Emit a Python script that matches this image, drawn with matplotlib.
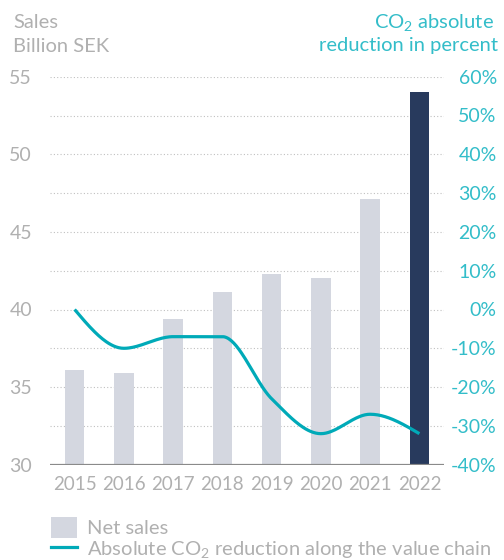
#!/usr/bin/env python3
# -*- encoding utf-8 -*-

"""
Net sales (bars, left axis) against absolute CO2 reduction along the
value chain (smoothed line, right axis), 2015-2022.
"""

# %% Load libraries
import numpy as np
import matplotlib
matplotlib.use("Agg")
import matplotlib.pyplot as plt
from matplotlib.patches import Patch
from matplotlib.lines import Line2D

# %% Setup
plt.rcParams['font.family'] = ['Lato', 'DejaVu Sans']
plt.rcParams['font.weight'] = 'normal'
plt.rcParams['mathtext.fontset'] = 'custom'
plt.rcParams['mathtext.rm'] = 'Lato'
plt.rcParams['mathtext.it'] = 'Lato'

GREY_TXT = '#b0b0b0'
TEAL_TXT = '#33bdc9'
TEAL = '#00aab8'
BAR = '#d4d7e0'
NAVY = '#283a5d'

# %% Data
years = ['2015', '2016', '2017', '2018', '2019', '2020', '2021', '2022']
net_sales = [36.1, 35.9, 39.4, 41.1, 42.3, 42.0, 47.1, 54.0]
co2_reduction = [0, -10, -7, -7, -23, -32, -27, -32]

sales_ticks = [30, 35, 40, 45, 50, 55]
pct_ticks = [-40, -30, -20, -10, 0, 10, 20, 30, 40, 50, 60]


# %% Monotone cubic smoothing of the CO2 line
def monotone_curve(y, n=40):
    y = np.asarray(y, dtype=float)
    s = np.diff(y)
    t = np.zeros_like(y)
    for i in range(1, len(y) - 1):
        p = (s[i - 1] + s[i]) / 2
        t[i] = (np.sign(s[i - 1]) + np.sign(s[i])) * \
            min(abs(s[i - 1]), abs(s[i]), 0.5 * abs(p))
    t[0] = (3 * s[0] - t[1]) / 2
    t[-1] = (3 * s[-1] - t[-2]) / 2
    xs, ys = [], []
    for i in range(len(s)):
        u = np.linspace(0, 1, n)
        h00 = 2 * u**3 - 3 * u**2 + 1
        h10 = u**3 - 2 * u**2 + u
        h01 = -2 * u**3 + 3 * u**2
        h11 = u**3 - u**2
        xs.append(i + u)
        ys.append(h00 * y[i] + h10 * t[i] + h01 * y[i + 1] + h11 * t[i + 1])
    return np.concatenate(xs), np.concatenate(ys)


# %% Figure
fig = plt.figure(figsize=(5.04, 5.6), dpi=100)
ax = fig.add_axes([50 / 504, 1 - 464.7 / 560, 394 / 504, 388 / 560])
ax2 = ax.twinx()

x = np.arange(len(years))
colors = [BAR] * (len(years) - 1) + [NAVY]
ax.bar(x, net_sales, width=0.4, color=colors, zorder=2)

# grid every 2.5 on the sales axis (= every 10% on the right axis)
for g in np.arange(32.5, 55.1, 2.5):
    ax.axhline(g, color='#c0c0c0', lw=0.8, ls=(0, (1, 2)), zorder=1)
ax.axhline(30, color='#8a8a8a', lw=1.6, zorder=3)

ax.set_xlim(-0.5, 7.5)
ax.set_ylim(30, 55)
ax.set_yticks(sales_ticks)
ax.set_xticks(x)
ax.set_xticklabels(years)
ax.tick_params(axis='y', length=0, pad=13, labelsize=14, labelcolor=GREY_TXT)
ax.tick_params(axis='x', length=0, pad=8, labelsize=13.5, labelcolor=GREY_TXT)

lx, ly = monotone_curve(co2_reduction)
ax2.plot(lx, ly, color=TEAL, lw=2.3, solid_capstyle='butt', zorder=4)
ax2.set_ylim(-40, 60)
ax2.set_yticks(pct_ticks)
ax2.set_yticklabels([f'{v}%' for v in pct_ticks], ha='right')
ax2.tick_params(axis='y', length=0, pad=38, labelsize=14, labelcolor=TEAL_TXT)

for a in (ax, ax2):
    for sp in a.spines.values():
        sp.set_visible(False)

# axis titles
fig.text(13 / 504, 1 - 28 / 560, 'Sales', color=GREY_TXT, fontsize=14.5,
         va='baseline', ha='left')
fig.text(13 / 504, 1 - 51.5 / 560, 'Billion SEK', color=GREY_TXT,
         fontsize=14.5, va='baseline', ha='left')
fig.text(494 / 504, 1 - 28 / 560, r'CO$_2$ absolute', color=TEAL_TXT,
         fontsize=14.5, va='baseline', ha='right')
fig.text(498 / 504, 1 - 51.5 / 560, 'reduction in percent', color=TEAL_TXT,
         fontsize=14.5, va='baseline', ha='right')

# legend
handles = [Patch(facecolor=BAR, edgecolor='none'),
           Line2D([], [], color=TEAL, lw=2.3)]
labels = ['Net sales', r'Absolute CO$_2$ reduction along the value chain']
leg = fig.legend(handles, labels, loc='upper left',
                 bbox_to_anchor=(51 / 504, 1 - 516.5 / 560),
                 frameon=False, fontsize=14.5, handlelength=1.3,
                 handleheight=1.25, handletextpad=0.5, labelspacing=0.0,
                 borderpad=0, borderaxespad=0)
for t in leg.get_texts():
    t.set_color(GREY_TXT)

fig.savefig('out.png', dpi=100)
